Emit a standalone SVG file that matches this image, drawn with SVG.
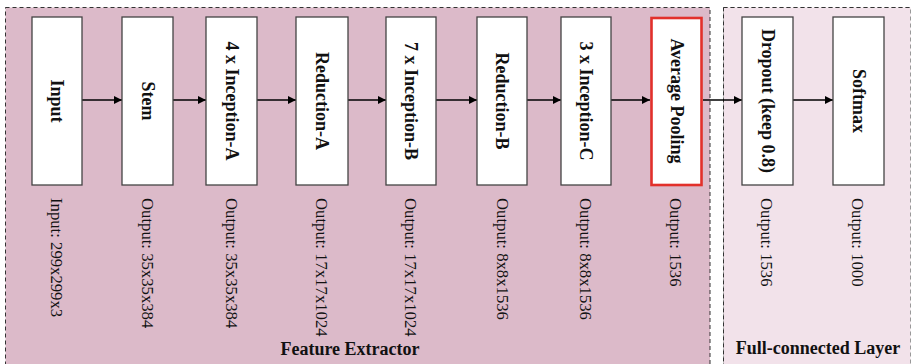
<svg xmlns="http://www.w3.org/2000/svg" width="912" height="364" viewBox="0 0 912 364">
<defs>
<style>
.panel{stroke:#333;stroke-width:1;stroke-dasharray:4 3}
.box{fill:#fff;stroke:#444;stroke-width:1.3}
.red{fill:#fff;stroke:#e2302b;stroke-width:2.6}
.lbl{font-family:"Liberation Serif","Times New Roman",serif;font-weight:bold;font-size:18px;fill:#111;text-anchor:middle;dominant-baseline:central}
.out{font-family:"Liberation Serif","Times New Roman",serif;font-size:16.7px;fill:#111;text-anchor:start;dominant-baseline:central}
.title{font-family:"Liberation Serif","Times New Roman",serif;font-weight:bold;font-size:18px;fill:#111;text-anchor:middle}
.conn{stroke:#000;stroke-width:1.6;fill:none;marker-end:url(#ah)}
</style>
<marker id="ah" viewBox="0 0 10 10" refX="10" refY="5" markerWidth="10" markerHeight="8" markerUnits="userSpaceOnUse" orient="auto">
<path d="M0,0 L10,5 L0,10 z" fill="#000"/>
</marker>
</defs>
<rect width="912" height="364" fill="#fff"/>
<g id="panel-feature">
<rect class="panel" x="5.5" y="7.5" width="704.5" height="360" fill="#dcbac9"/>
<text class="title" x="350" y="355">Feature Extractor</text>
</g>
<g id="panel-fc">
<rect x="723.5" y="7.5" width="187" height="360" fill="#f2e2ea" stroke="#999" stroke-width="1" stroke-dasharray="4 3"/>
<line x1="723.5" y1="7.5" x2="723.5" y2="364" class="panel"/>
<line x1="723.5" y1="7.5" x2="910.5" y2="7.5" class="panel"/>
<text class="title" x="818" y="354">Full-connected Layer</text>
</g>
<g id="connectors">
<line class="conn" x1="82" y1="100" x2="122" y2="100"/>
<line class="conn" x1="173" y1="100" x2="206" y2="100"/>
<line class="conn" x1="257" y1="100" x2="296" y2="100"/>
<line class="conn" x1="348" y1="100" x2="386" y2="100"/>
<line class="conn" x1="436" y1="100" x2="477" y2="100"/>
<line class="conn" x1="527" y1="100" x2="561" y2="100"/>
<line class="conn" x1="611" y1="100" x2="650" y2="100"/>
<line class="conn" x1="703" y1="100" x2="742" y2="100"/>
<line class="conn" x1="793" y1="100" x2="833" y2="100"/>
</g>
<g id="node-input">
<rect class="box" x="32" y="17" width="50" height="168"/>
<text class="lbl" transform="translate(57,101) rotate(90)">Input</text>
<text class="out" transform="translate(56,198) rotate(90)">Input: 299x299x3</text>
</g>
<g id="node-stem">
<rect class="box" x="122" y="17" width="51" height="168"/>
<text class="lbl" transform="translate(147.5,101) rotate(90)">Stem</text>
<text class="out" transform="translate(147,198) rotate(90)">Output: 35x35x384</text>
</g>
<g id="node-inception-a">
<rect class="box" x="206" y="17" width="51" height="168"/>
<text class="lbl" transform="translate(231.5,101) rotate(90)">4 x Inception-A</text>
<text class="out" transform="translate(231,198) rotate(90)">Output: 35x35x384</text>
</g>
<g id="node-reduction-a">
<rect class="box" x="296" y="17" width="52" height="168"/>
<text class="lbl" transform="translate(322,101) rotate(90)">Reduction-A</text>
<text class="out" transform="translate(321,198) rotate(90)">Output: 17x17x1024</text>
</g>
<g id="node-inception-b">
<rect class="box" x="386" y="17" width="50" height="168"/>
<text class="lbl" transform="translate(411,101) rotate(90)">7 x Inception-B</text>
<text class="out" transform="translate(410,198) rotate(90)">Output: 17x17x1024</text>
</g>
<g id="node-reduction-b">
<rect class="box" x="477" y="17" width="50" height="168"/>
<text class="lbl" transform="translate(502,101) rotate(90)">Reduction-B</text>
<text class="out" transform="translate(502,198) rotate(90)">Output: 8x8x1536</text>
</g>
<g id="node-inception-c">
<rect class="box" x="561" y="17" width="50" height="168"/>
<text class="lbl" transform="translate(586,101) rotate(90)">3 x Inception-C</text>
<text class="out" transform="translate(585,198) rotate(90)">Output: 8x8x1536</text>
</g>
<g id="node-avgpool">
<rect class="red" x="651.5" y="18" width="50" height="167"/>
<text class="lbl" transform="translate(676.5,101) rotate(90)">Average Pooling</text>
<text class="out" transform="translate(675,198) rotate(90)">Output: 1536</text>
</g>
<g id="node-dropout">
<rect class="box" x="742" y="17" width="51" height="168"/>
<text class="lbl" transform="translate(767.5,101) rotate(90)">Dropout (keep 0.8)</text>
<text class="out" transform="translate(766,198) rotate(90)">Output: 1536</text>
</g>
<g id="node-softmax">
<rect class="box" x="833" y="17" width="51" height="168"/>
<text class="lbl" transform="translate(858.5,101) rotate(90)">Softmax</text>
<text class="out" transform="translate(857,198) rotate(90)">Output: 1000</text>
</g>
</svg>
